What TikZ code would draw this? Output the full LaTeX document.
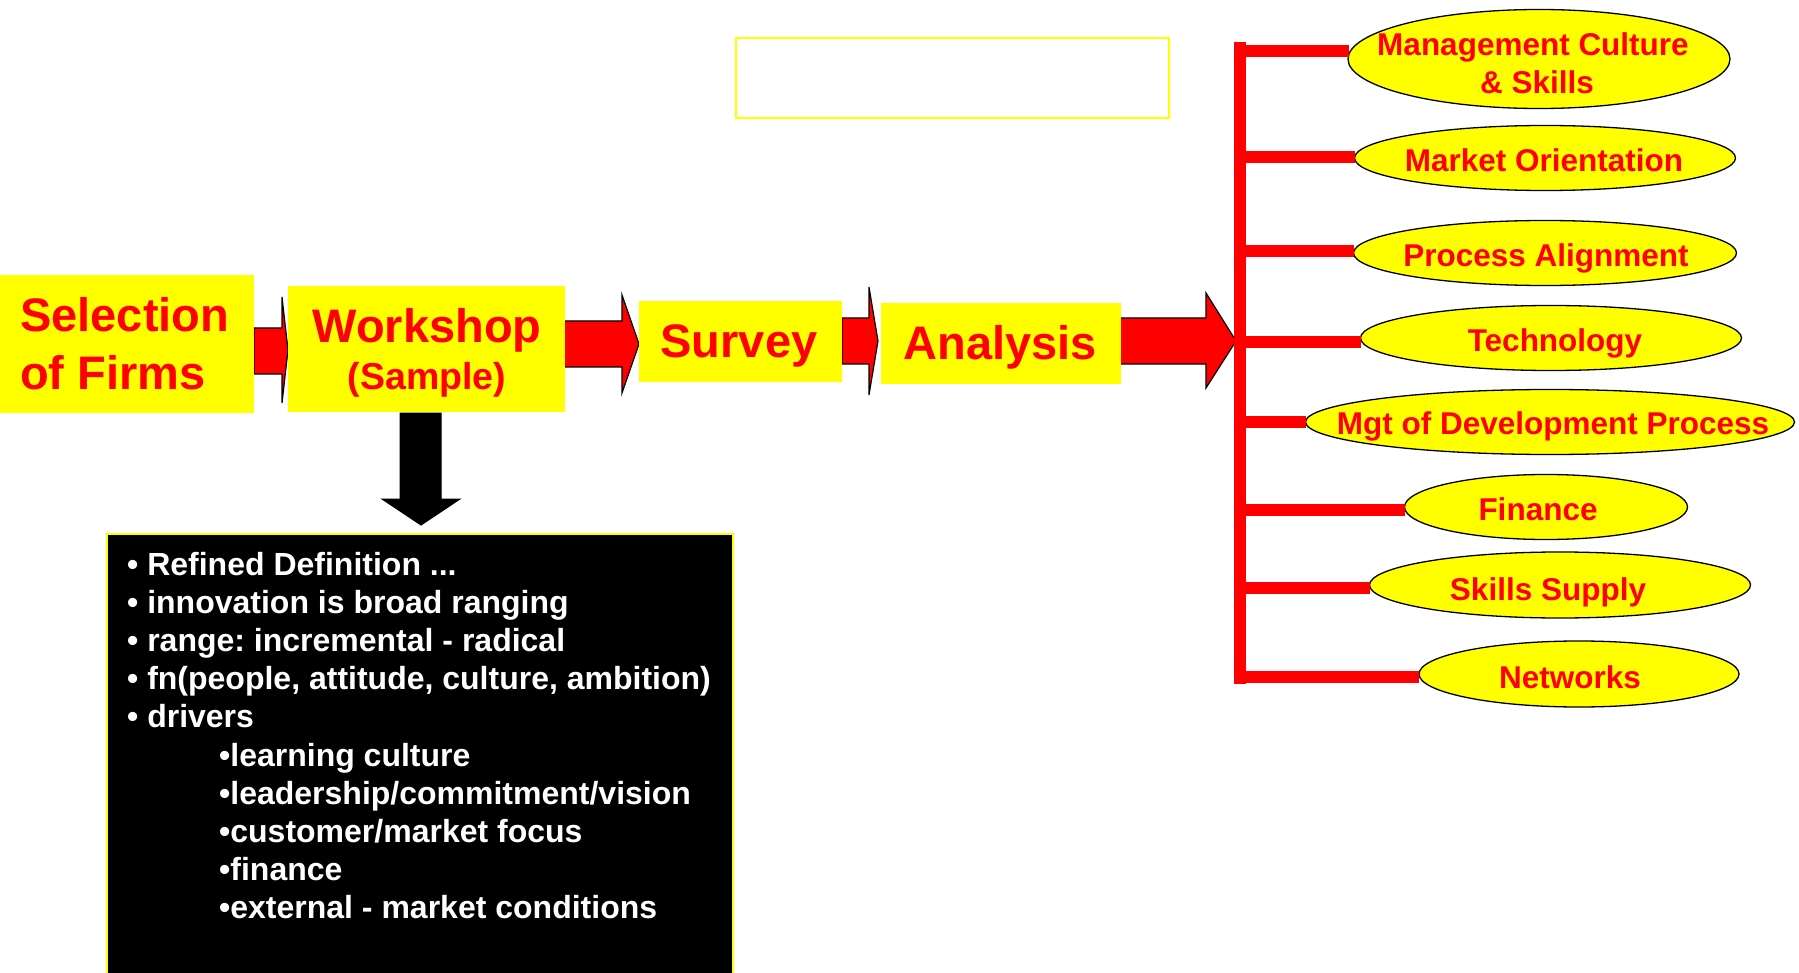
\documentclass[tikz,border=0pt]{standalone}
\usepackage{fontspec}
\setmainfont{Liberation Sans}
\usetikzlibrary{shapes.geometric}
\definecolor{ylw}{HTML}{FFFF00}
\definecolor{rd}{HTML}{FF0000}
\frenchspacing
\begin{document}
\begin{tikzpicture}[x=1pt,y=-1pt,
  ybox/.style={rectangle, fill=ylw, draw=none, inner sep=0pt},
  bigtxt/.style={text=rd, font=\fontsize{47}{56}\selectfont\bfseries, inner sep=0pt, anchor=base},
  smalltxt/.style={text=rd, font=\fontsize{37.5}{45}\selectfont\bfseries, inner sep=0pt, anchor=base},
  blockarrow/.style={fill=rd, draw=black, line width=1.2pt, line join=miter},
  downarrow/.style={fill=black, draw=black, line width=1pt},
  oval/.style={ellipse, fill=ylw, draw=black, line width=1.3pt, inner sep=0pt},
  otext/.style={text=rd, font=\fontsize{31.5}{38}\selectfont\bfseries, inner sep=0pt, anchor=base},
  wtext/.style={text=white, font=\fontsize{32}{38}\selectfont\bfseries, inner sep=0pt, anchor=base west},
  bar/.style={draw=rd, line width=12pt},
]
\clip (0,0) rectangle (1799,973);
\fill[white] (0,0) rectangle (1799,973);

% empty yellow frame
\node[rectangle, draw=ylw, line width=2pt, minimum width=433pt, minimum height=80pt, inner sep=0pt] (frame) at (952.5,78) {};

% block arrows
\draw[blockarrow] (254,328) -- (282,328) -- (282,297) -- (288,350) -- (282,403) -- (282,374) -- (254,374) -- cycle;
\draw[blockarrow] (562,321) -- (622,321) -- (622,295) -- (639,344) -- (622,393) -- (622,367) -- (562,367) -- cycle;
\draw[blockarrow] (842,318) -- (869,318) -- (869,287) -- (878,341) -- (869,395) -- (869,364) -- (842,364) -- cycle;
\draw[blockarrow] (1117,318) -- (1206,318) -- (1206,293) -- (1236,341) -- (1206,388) -- (1206,364) -- (1117,364) -- cycle;

% yellow boxes
\node[ybox, minimum width=254pt, minimum height=138pt] (sel) at (127,344) {};
\node[ybox, minimum width=277pt, minimum height=126pt] (ws) at (426.5,349) {};
\node[ybox, minimum width=203pt, minimum height=81pt] (sv) at (740.5,341.5) {};
\node[ybox, minimum width=240pt, minimum height=81pt] (an) at (1001,343.5) {};

\node[bigtxt, anchor=base west] (selA) at (20,332) {Selection};
\node[bigtxt, anchor=base west] (selB) at (20,389) {of Firms};
\node[bigtxt] (wsA) at (427,343) {Workshop};
\node[smalltxt] (wsB) at (427,390) {(Sample)};
\node[bigtxt] (svA) at (739,358) {Survey};
\node[bigtxt] (anA) at (1000,360) {Analysis};

% down arrow
\draw[downarrow] (400,413) -- (441,413) -- (441,499) -- (460,499) -- (421,525) -- (382,499) -- (400,499) -- cycle;

% black box
\draw[fill=black, draw=ylw, line width=1.5pt] (107,534) rectangle (733,1000);
\node[wtext] (l1) at (127,575) {• Refined Definition ...};
\node[wtext] (l2) at (127,613.2) {• innovation is broad ranging};
\node[wtext] (l3) at (127,651.4) {• range: incremental - radical};
\node[wtext] (l4) at (127,689.6) {• fn(people, attitude, culture, ambition)};
\node[wtext] (l5) at (127,727.8) {• drivers};
\node[wtext] (l6) at (219,766) {•learning culture};
\node[wtext] (l7) at (219,804.2) {•leadership/commitment/vision};
\node[wtext] (l8) at (219,842.4) {•customer/market focus};
\node[wtext] (l9) at (219,880.6) {•finance};
\node[wtext] (l10) at (219,918.8) {•external - market conditions};

% ellipses
\node[oval, minimum width=382pt, minimum height=99pt] (e1) at (1539,59) {};
\node[oval, minimum width=381pt, minimum height=65pt] (e2) at (1545,158) {};
\node[oval, minimum width=383pt, minimum height=65pt] (e3) at (1545,253) {};
\node[oval, minimum width=381pt, minimum height=65pt] (e4) at (1551,338) {};
\node[oval, minimum width=489pt, minimum height=65pt] (e5) at (1550,422) {};
\node[oval, minimum width=283pt, minimum height=65pt] (e6) at (1546,507) {};
\node[oval, minimum width=381pt, minimum height=66pt] (e7) at (1560,585) {};
\node[oval, minimum width=320pt, minimum height=66pt] (e8) at (1579,674) {};

% bar and branches
\coordinate (bartop) at (1240,42);
\coordinate (barbot) at (1240,684);
\draw[bar] (bartop) -- (barbot);
\foreach \e/\yy/\dx in {e1/51/2,e2/157/1,e3/251/1,e4/342/1,e5/422/1,e6/510/1,e7/588/1,e8/677/1}{
  \draw[bar] (bartop |- 0,\yy) -- ([xshift=\dx pt]\e.west |- 0,\yy);
}

\node[otext] (t1a) at (1533,56) {Management Culture};
\node[otext] (t1b) at (1537,94) {\& Skills};
\node[otext] (t2) at (1544,172) {Market Orientation};
\node[otext] (t3) at (1546,267) {Process Alignment};
\node[otext] (t4) at (1555,352) {Technology};
\node[otext] (t5) at (1553,435) {Mgt of Development Process};
\node[otext] (t6) at (1538,520) {Finance};
\node[otext] (t7) at (1548,600) {Skills Supply};
\node[otext] (t8) at (1570,688) {Networks};
\end{tikzpicture}
\end{document}
